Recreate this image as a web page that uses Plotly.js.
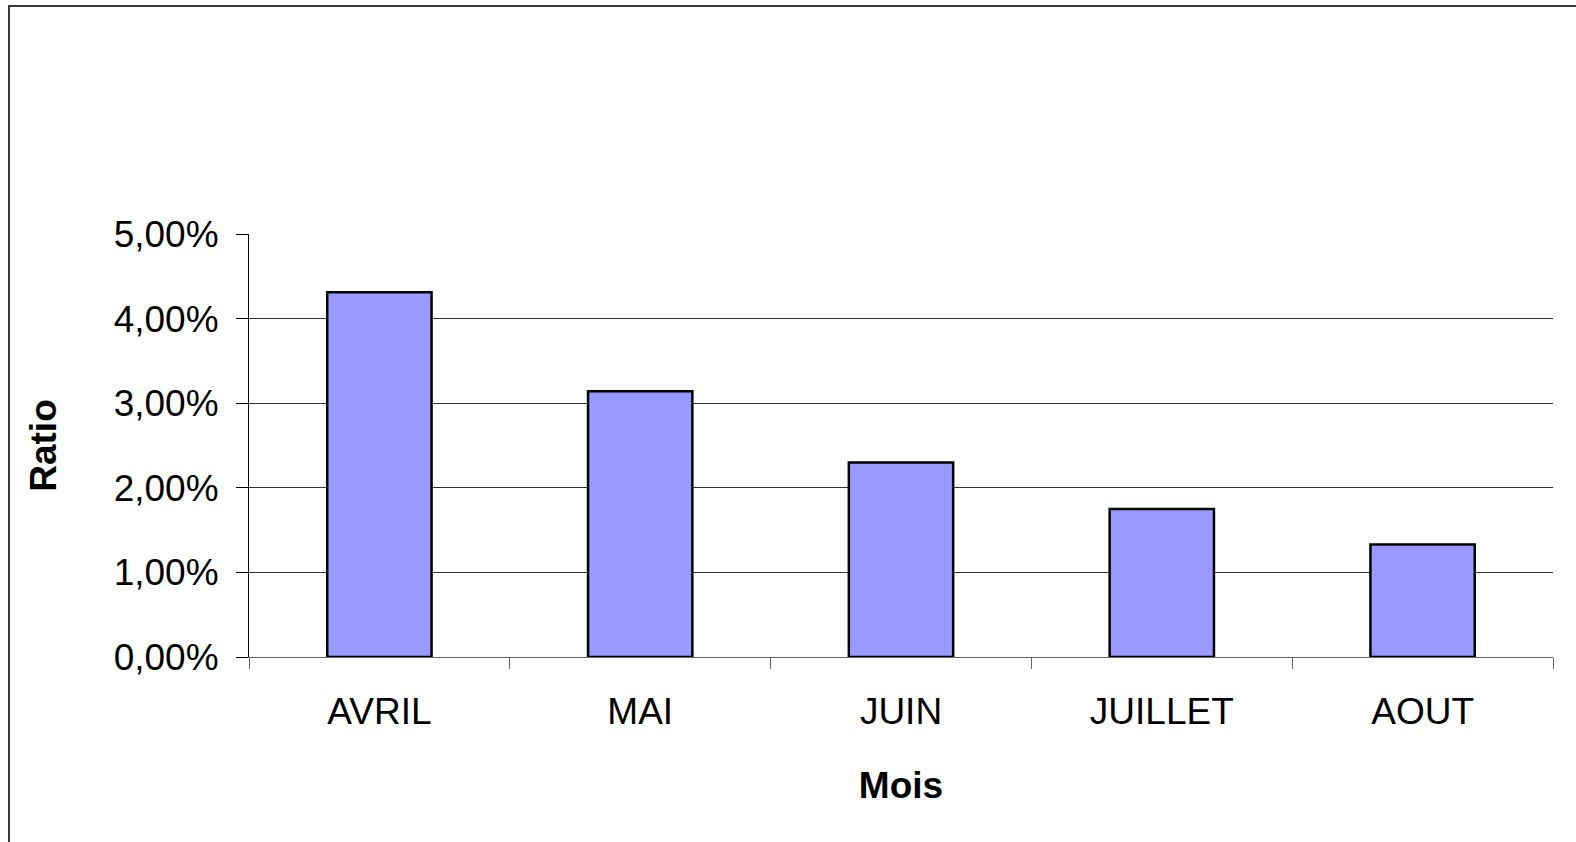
<!DOCTYPE html>
<html>
<head>
<meta charset="utf-8">
<script src="https://cdn.plot.ly/plotly-3.0.1.min.js"></script>
<style>
  html, body { margin: 0; padding: 0; background: #fff; }
  #wrap { position: relative; width: 1576px; height: 842px; overflow: hidden; }
  #chart { position: absolute; left: 0; top: 0; width: 1576px; height: 842px; }
  #frame { position: absolute; left: 8px; top: 5px; width: 1600px; height: 900px;
           border-left: 2px solid #3a3a3a; border-top: 2px solid #3a3a3a; pointer-events: none; }
</style>
</head>
<body>
<div id="wrap">
  <div id="chart"></div>
  <div id="frame"></div>
</div>
<script>
const months = ["AVRIL", "MAI", "JUIN", "JUILLET", "AOUT"];
const ratios = [0.0431, 0.0314, 0.0230, 0.0175, 0.0133];
const yTicks = [0, 0.01, 0.02, 0.03, 0.04, 0.05];
const gridTicks = [0.01, 0.02, 0.03, 0.04];
const xTitle = "Mois";
const yTitle = "Ratio";

const font = "Liberation Sans, Arial, sans-serif";

const traces = [{
  type: "bar",
  x: months,
  y: ratios,
  marker: { color: "#9999FF", line: { color: "#000000", width: 2.5 } },
  hoverinfo: "x+y"
}];

const layout = {
  width: 1576,
  height: 842,
  margin: { l: 249, r: 23, t: 234, b: 185, pad: 0 },
  paper_bgcolor: "#ffffff",
  plot_bgcolor: "#ffffff",
  separators: ",.",
  showlegend: false,
  bargap: 0.6,
  font: { family: font, color: "#000", size: 37 },
  xaxis: {
    type: "category",
    showline: true, linecolor: "#666", linewidth: 1,
    ticks: "outside", tickson: "boundaries", ticklen: 11, tickcolor: "#666", tickwidth: 1,
    ticklabelstandoff: 22,
    showgrid: false, zeroline: false,
    tickfont: { family: font, size: 37, color: "#000" },
    title: { text: xTitle, font: { family: font, size: 37, color: "#000", weight: "bold" }, standoff: 40 }
  },
  yaxis: {
    range: [0, 0.05],
    tickvals: yTicks,
    tickformat: ".2%",
    showline: true, linecolor: "#000", linewidth: 1,
    ticks: "outside", ticklen: 12, tickcolor: "#000", tickwidth: 1,
    ticklabelstandoff: 10,
    showgrid: false, zeroline: false,
    tickfont: { family: font, size: 37, color: "#000" },
    title: { text: yTitle, font: { family: font, size: 37, color: "#000", weight: "bold" }, standoff: 45 }
  },
  yaxis2: {
    overlaying: "y",
    matches: "y",
    range: [0, 0.05],
    tickvals: gridTicks,
    showticklabels: false,
    ticks: "",
    showgrid: true, gridcolor: "#333", gridwidth: 1,
    zeroline: false, showline: false
  }
};

// invisible trace to activate the grid axis
traces.push({ type: "scatter", x: [months[0]], y: [ratios[0]], yaxis: "y2", mode: "markers",
  marker: { opacity: 0 }, hoverinfo: "skip", showlegend: false });

Plotly.newPlot("chart", traces, layout, { displayModeBar: false, staticPlot: true });
</script>
</body>
</html>
